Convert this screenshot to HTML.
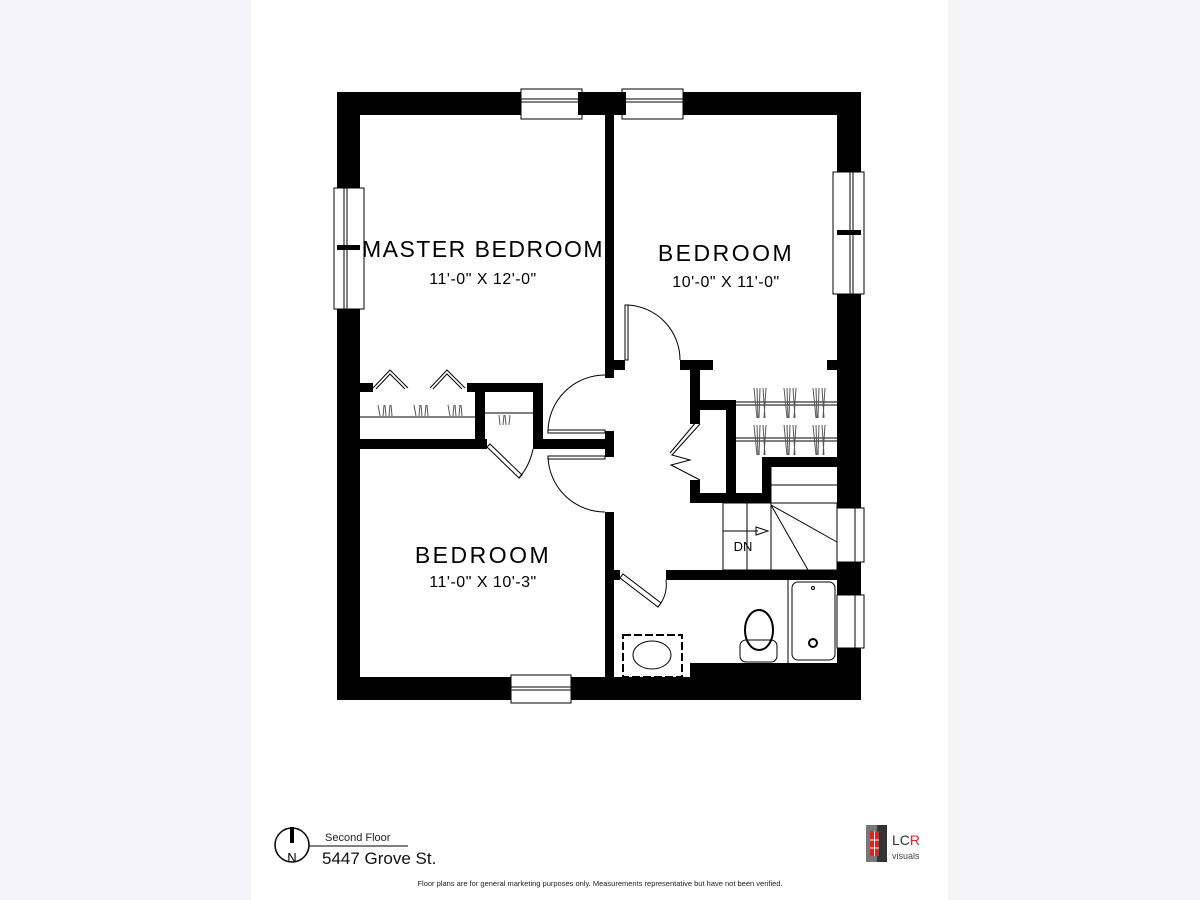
<!DOCTYPE html>
<html><head><meta charset="utf-8"><style>
html,body{margin:0;padding:0;width:1200px;height:900px;overflow:hidden;background:#f5f4f7}
svg{display:block}
text{font-family:"Liberation Sans",sans-serif}
</style></head><body>
<svg width="1200" height="900" viewBox="0 0 1200 900" xmlns="http://www.w3.org/2000/svg">
<rect x="0" y="0" width="1200" height="900" fill="#f5f4f7"/>
<rect x="251" y="0" width="697" height="900" fill="#fff"/>

<g fill="#000">
<!-- outer walls -->
<rect x="337" y="92" width="524" height="23"/>
<rect x="337" y="92" width="23" height="608"/>
<rect x="837" y="92" width="24" height="608"/>
<rect x="337" y="677" width="524" height="23"/>
<rect x="690" y="663" width="147" height="15"/>
<!-- center wall top -->
<rect x="605" y="115" width="9" height="263"/>
<rect x="605" y="360" width="20" height="10"/>
<!-- hall stub between doors -->
<rect x="605" y="431" width="9" height="26"/>
<!-- hall left wall lower -->
<rect x="605" y="512" width="9" height="170"/>
<rect x="605" y="570" width="15" height="10"/>
<!-- master closet -->
<rect x="360" y="383" width="13" height="9"/>
<rect x="467" y="383" width="76" height="9"/>
<rect x="475" y="383" width="10" height="66"/>
<rect x="533" y="383" width="10" height="66"/>
<rect x="360" y="439" width="127" height="10"/>
<rect x="533" y="439" width="72" height="10"/>
<!-- bedroom 2 closet area -->
<rect x="680" y="360" width="33" height="10"/>
<rect x="827" y="360" width="10" height="10"/>
<rect x="690" y="360" width="10" height="64"/>
<rect x="690" y="480" width="10" height="23"/>
<rect x="690" y="400" width="46" height="10"/>
<rect x="726" y="400" width="10" height="103"/>
<rect x="690" y="493" width="80" height="10"/>
<rect x="762" y="457" width="9" height="46"/>
<rect x="762" y="457" width="75" height="10"/>
<!-- bath wall -->
<rect x="666" y="570" width="171" height="10"/>
</g>

<!-- windows -->
<g fill="#fff" stroke="#000" stroke-width="1">
<rect x="521" y="89" width="61" height="30"/>
<rect x="622" y="89" width="61" height="30"/>
<rect x="334" y="188" width="30" height="121"/>
<rect x="833" y="172" width="31" height="122"/>
<rect x="511" y="675" width="60" height="28"/>
<rect x="837" y="508" width="27" height="54"/>
<rect x="837" y="595" width="27" height="53"/>
</g>
<g stroke="#000" stroke-width="1" fill="none">
<line x1="521" y1="99" x2="582" y2="99"/><line x1="521" y1="102" x2="582" y2="102"/>
<line x1="622" y1="99" x2="683" y2="99"/><line x1="622" y1="102" x2="683" y2="102"/>
<line x1="344" y1="188" x2="344" y2="309"/><line x1="347" y1="188" x2="347" y2="309"/>
<line x1="850" y1="172" x2="850" y2="294"/><line x1="853" y1="172" x2="853" y2="294"/>
<line x1="511" y1="687" x2="571" y2="687"/><line x1="511" y1="690" x2="571" y2="690"/>
<line x1="855" y1="508" x2="855" y2="562"/><line x1="855" y1="595" x2="855" y2="648"/>
</g>
<g fill="#000">
<rect x="337" y="245" width="23" height="5"/>
<rect x="837" y="230" width="24" height="5"/>
<rect x="578" y="92" width="4" height="23"/><rect x="622" y="92" width="4" height="23"/>
</g>

<!-- doors -->
<g stroke="#000" stroke-width="1" fill="none">
<rect x="548" y="430" width="57" height="3"/>
<path d="M548 431 A57 57 0 0 1 605 375"/>
<rect x="548" y="456" width="57" height="3"/>
<path d="M548 457 A57 57 0 0 0 605 512"/>
<rect x="625" y="305" width="3" height="55"/>
<path d="M628 305 A55 55 0 0 1 680 360"/>
<path d="M620 578 L658 607 L661 603 L623 574 Z"/>
<path d="M658 607 Q668 595 666 580"/>
<path d="M487 447 L519 478 L522 475 L490 444 Z"/>
<path d="M519 478 Q530 465 533 449"/>
<!-- bifold closet master -->
<path d="M373 388 L390 370 L408 388 M376 389 L390 374 L405 389"/>
<path d="M430 388 L447 370 L465 388 M433 389 L447 374 L462 389"/>
<!-- bifold bedroom closet -->
<path d="M700 424 L672 455 L690 460 L671 465 L700 480"/>
<path d="M697 421 L670 453"/>
<line x1="360" y1="417" x2="475" y2="417"/>
<line x1="485" y1="413" x2="533" y2="413"/>
<line x1="736" y1="402" x2="837" y2="402"/><line x1="736" y1="405" x2="837" y2="405"/>
<line x1="736" y1="438" x2="837" y2="438"/><line x1="736" y1="441" x2="837" y2="441"/>
<!-- stairs -->
<rect x="723" y="503" width="114" height="67"/>
<line x1="747" y1="503" x2="747" y2="570"/>
<line x1="771" y1="503" x2="771" y2="570"/>
<line x1="771" y1="467" x2="771" y2="503"/>
<line x1="771" y1="485" x2="837" y2="485"/>
<line x1="771" y1="505" x2="837" y2="542"/>
<line x1="771" y1="505" x2="808" y2="570"/>
<line x1="723" y1="531" x2="758" y2="531"/>
<path d="M756 527 L768 531 L756 535 Z"/>
<!-- bathroom -->
<rect x="623" y="635" width="59" height="42" stroke-width="2" stroke-dasharray="8 3"/>
<ellipse cx="652" cy="655" rx="19" ry="14"/>
<rect x="740" y="640" width="37" height="22" rx="6"/>
<ellipse cx="759" cy="630" rx="14" ry="20" stroke-width="2"/>
<line x1="788" y1="580" x2="788" y2="663"/>
<rect x="792" y="582" width="43" height="78" rx="6"/>
<circle cx="813" cy="588" r="1.5"/>
<circle cx="813" cy="643" r="4" stroke-width="2"/>
</g>
<g stroke="#555" stroke-width="1">
<path d="M380 416 l-2 -11 M383 416 l1 -11 M386 416 l-1 -11 M389 416 l1 -11 M392 416 l-1 -11"/>
<path d="M416 416 l-2 -11 M419 416 l1 -11 M422 416 l-1 -11 M425 416 l1 -11 M428 416 l-1 -11"/>
<path d="M450 416 l-2 -11 M453 416 l1 -11 M456 416 l-1 -11 M459 416 l1 -11 M462 416 l-1 -11"/>
<path d="M500 425 l-1 -10 M503 425 l1 -10 M506 425 l-1 -10 M509 425 l1 -10"/>
<path d="M754 388 l3 30 M757 388 l1 30 M760 388 l-1 30 M763 388 l2 30 M766 388 l-2 30"/>
<path d="M784 388 l3 30 M787 388 l1 30 M790 388 l-1 30 M793 388 l2 30 M796 388 l-2 30"/>
<path d="M813 388 l3 30 M816 388 l1 30 M819 388 l-1 30 M822 388 l2 30 M825 388 l-2 30"/>
<path d="M754 425 l3 30 M757 425 l1 30 M760 425 l-1 30 M763 425 l2 30 M766 425 l-2 30"/>
<path d="M784 425 l3 30 M787 425 l1 30 M790 425 l-1 30 M793 425 l2 30 M796 425 l-2 30"/>
<path d="M813 425 l3 30 M816 425 l1 30 M819 425 l-1 30 M822 425 l2 30 M825 425 l-2 30"/>
</g>

<!-- labels -->
<g fill="#000" text-anchor="middle">
<text x="483" y="257" font-size="23" letter-spacing="1.5">MASTER BEDROOM</text>
<text x="483" y="284" font-size="16" letter-spacing="0.5">11'-0" X 12'-0"</text>
<text x="726" y="261" font-size="23" letter-spacing="2.5">BEDROOM</text>
<text x="726" y="287" font-size="16" letter-spacing="0.5">10'-0" X 11'-0"</text>
<text x="483" y="563" font-size="23" letter-spacing="2.5">BEDROOM</text>
<text x="483" y="587" font-size="16" letter-spacing="0.5">11'-0" X 10'-3"</text>
<text x="743" y="551" font-size="13">DN</text>
</g>

<!-- footer -->
<circle cx="292" cy="845" r="17" fill="none" stroke="#000" stroke-width="1.5"/>
<rect x="290" y="827" width="4" height="16" fill="#000"/>
<text x="292" y="862" font-size="13" text-anchor="middle" fill="#000">N</text>
<text x="325" y="841" font-size="11" fill="#222">Second Floor</text>
<line x1="309" y1="846" x2="408" y2="846" stroke="#000" stroke-width="1"/>
<text x="322" y="864" font-size="17" fill="#111">5447 Grove St.</text>
<text x="600" y="886" font-size="7.5" text-anchor="middle" fill="#222">Floor plans are for general marketing purposes only. Measurements representative but have not been verified.</text>
<rect x="866" y="825" width="11" height="37" fill="#777"/>
<rect x="877" y="825" width="10" height="37" fill="#333"/>
<rect x="870" y="831" width="9" height="25" fill="#d22"/>
<line x1="870" y1="840" x2="879" y2="840" stroke="#fff" stroke-width="1"/>
<line x1="870" y1="848" x2="879" y2="848" stroke="#fff" stroke-width="1"/>
<line x1="874.5" y1="831" x2="874.5" y2="856" stroke="#fff" stroke-width="1"/>
<text x="892" y="845" font-size="14" fill="#333">LC<tspan fill="#d22">R</tspan></text>
<text x="892" y="859" font-size="9" fill="#444">visuals</text>
</svg>
</body></html>
